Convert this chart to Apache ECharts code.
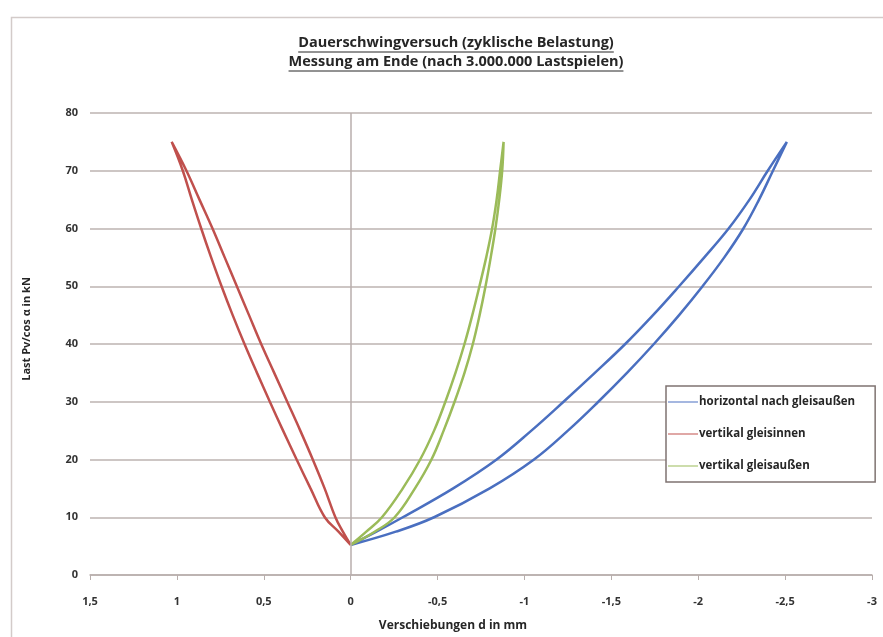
<!DOCTYPE html>
<html>
<head>
<meta charset="utf-8">
<script src="https://cdn.jsdelivr.net/npm/echarts@6/dist/echarts.min.js"></script>
<style>
html,body{margin:0;padding:0;background:#fff;}
#chart{width:883px;height:637px;}
</style>
</head>
<body>
<div id="chart"></div>
<script>
// ---- data (x = Verschiebung d in mm, y = Last in kN) ----
const titleLines = ['Dauerschwingversuch (zyklische Belastung)', 'Messung am Ende (nach 3.000.000 Lastspielen)'];
const seriesNames = ['horizontal nach gleisaußen', 'vertikal gleisinnen', 'vertikal gleisaußen'];
const xTicks = [1.5, 1, 0.5, 0, -0.5, -1, -1.5, -2, -2.5, -3];
const yTicks = [0, 10, 20, 30, 40, 50, 60, 70, 80];

// load levels at which the branches were read (up branch), reversed for down branch
const loadUp   = [5.2, 7.5, 10, 15, 20, 25, 30, 35, 40, 45, 50, 55, 60, 65, 70, 75];
const loadDown = [70, 65, 60, 55, 50, 45, 40, 35, 30, 25, 20, 15, 10, 7.5, 5.2];

// blue: horizontal nach gleisaußen
const blueUpX   = [0, -0.148, -0.30, -0.59, -0.84, -1.04, -1.225, -1.405, -1.58, -1.74, -1.89, -2.035, -2.175, -2.295, -2.40, -2.51];
const blueDownX = [-2.43, -2.35, -2.26, -2.15, -2.025, -1.89, -1.745, -1.59, -1.425, -1.25, -1.055, -0.80, -0.48, -0.26, 0];

// red: vertikal gleisinnen
const redUpX   = [0, 0.07, 0.149, 0.231, 0.311, 0.389, 0.465, 0.539, 0.611, 0.679, 0.743, 0.803, 0.86, 0.914, 0.966, 1.03];
const redDownX = [0.945, 0.87, 0.795, 0.725, 0.655, 0.585, 0.515, 0.44, 0.365, 0.29, 0.218, 0.15, 0.088, 0.045, 0];

// green: vertikal gleisaußen
const greenUpX   = [0, -0.09, -0.18, -0.30, -0.40, -0.48, -0.545, -0.603, -0.655, -0.70, -0.741, -0.78, -0.814, -0.84, -0.86, -0.88];
const greenDownX = [-0.872, -0.855, -0.833, -0.806, -0.776, -0.742, -0.703, -0.655, -0.598, -0.535, -0.465, -0.37, -0.253, -0.138, 0];

const colors = ['#4a6fc0', '#c0504d', '#9bbb59'];

function loop(upX, downX) {
  return upX.map((x, i) => [x, loadUp[i]]).concat(downX.map((x, i) => [x, loadDown[i]]));
}
function fmt(v) { return String(v).replace('.', ','); }

const chart = echarts.init(document.getElementById('chart'), null, {renderer: 'canvas'});

const titleFont = 'bold 14.5px "Open Sans"';
const mctx = document.createElement('canvas').getContext('2d');
mctx.font = titleFont;
const titleCx = 456;
const titleYs = [43, 62];
const graphics = [
  {type: 'rect', left: 9, top: 15, shape: {x: 0, y: 0, width: 900, height: 700},
   style: {fill: 'none', stroke: '#d3cbc9', lineWidth: 1.5}, silent: true, z: -10}
];
titleLines.forEach((t, i) => {
  const w = mctx.measureText(t).width;
  graphics.push({type: 'text', x: titleCx, y: titleYs[i],
    style: {text: t, font: titleFont, fill: '#262626', textAlign: 'center', textVerticalAlign: 'middle'}});
  graphics.push({type: 'line', shape: {x1: titleCx - w / 2, y1: titleYs[i] + 9, x2: titleCx + w / 2, y2: titleYs[i] + 9},
    style: {stroke: '#262626', lineWidth: 1}});
});

const loops = [loop(blueUpX, blueDownX), loop(redUpX, redDownX), loop(greenUpX, greenDownX)];
const lineSeries = loops.map((d, i) => ({
  name: seriesNames[i],
  type: 'line',
  data: d,
  showSymbol: false,
  symbol: 'none',
  smooth: 0.4,
  lineStyle: {color: colors[i], width: 2.5},
  itemStyle: {color: colors[i]},
  z: 3
}));
lineSeries.push({
  type: 'line', data: [], silent: true, z: 1,
  markLine: {silent: true, symbol: 'none', label: {show: false},
    lineStyle: {color: '#b8aeac', width: 1.5, type: 'solid'},
    data: [{xAxis: 0}]}
});

chart.setOption({
  backgroundColor: '#ffffff',
  animation: false,
  textStyle: {fontFamily: '"Open Sans", sans-serif'},
  graphic: graphics,
  grid: {left: 90, right: 11, top: 113, bottom: 60, containLabel: false},
  legend: {
    orient: 'vertical',
    left: 666, top: 386,
    data: seriesNames,
    itemWidth: 30, itemHeight: 10, itemGap: 20,
    padding: [10, 20, 10, 2],
    borderColor: '#7f7371', borderWidth: 1.5,
    backgroundColor: '#ffffff',
    textStyle: {fontSize: 11.5, fontWeight: 'bold', color: '#262626', padding: [0, 0, 0, -4]},
    icon: 'path://M0,5L30,5L30,6L0,6Z'
  },
  xAxis: {
    type: 'value', inverse: true, min: -3, max: 1.5, interval: 0.5,
    name: 'Verschiebungen d in mm', nameLocation: 'middle', nameGap: 45,
    nameTextStyle: {fontSize: 12, fontWeight: 'bold', color: '#262626', padding: [0, 56, 0, 0]},
    axisLine: {onZero: false, lineStyle: {color: '#b8aeac', width: 1.5}},
    axisTick: {show: true, length: 5, lineStyle: {color: '#b8aeac'}},
    axisLabel: {fontSize: 11, fontWeight: 'bold', color: '#333', margin: 21, formatter: v => fmt(v)},
    splitLine: {show: false}
  },
  yAxis: {
    type: 'value', min: 0, max: 80, interval: 10,
    name: 'Last Pv/cos α in kN', nameLocation: 'middle', nameGap: 58, nameRotate: 90,
    nameTextStyle: {fontSize: 11, fontWeight: 'bold', color: '#262626', padding: [0, 0, 0, 30]},
    axisLine: {show: false},
    axisTick: {show: false},
    axisLabel: {fontSize: 11, fontWeight: 'bold', color: '#333', margin: 12, formatter: v => fmt(v)},
    splitLine: {show: true, lineStyle: {color: '#bdb3b1', width: 1.5}}
  },
  series: lineSeries
});
</script>
</body>
</html>
